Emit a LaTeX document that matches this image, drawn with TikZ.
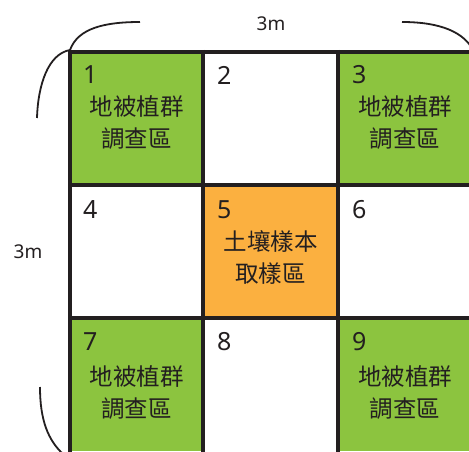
\documentclass[tikz,border=0pt]{standalone}
\usepackage{fontspec}
\setmainfont{Noto Sans}
\newfontfamily\cjk{Noto Sans CJK TC}
\definecolor{gr}{HTML}{8CC43F}
\definecolor{og}{HTML}{FBB040}
\definecolor{ink}{HTML}{231F20}
\tikzset{
  cellbox/.style={minimum width=135pt, minimum height=133pt, inner sep=0pt, anchor=north west, draw=none},
  num/.style={anchor=west, text=ink, font=\fontsize{25}{25}\selectfont, inner sep=0pt},
  lbl/.style={text=ink, font=\cjk\fontsize{23.5}{32}\selectfont, align=center, inner sep=0pt, anchor=north},
  dim/.style={text=ink, font=\fontsize{19}{19}\selectfont, inner sep=0pt},
  grid/.style={draw=ink, line width=4pt},
  brace/.style={draw=ink, line width=1.8pt},
}
\begin{document}
\begin{tikzpicture}[x=1pt,y=-1pt]
\useasboundingbox (0,0) rectangle (469,452);
\clip (0,0) rectangle (469,452);
\fill[white] (0,0) rectangle (469,452);
% cells
\node[cellbox, fill=gr] (c1) at (70,52) {};
\node[cellbox, fill=white] (c2) at (203,52) {};
\node[cellbox, fill=gr] (c3) at (338,52) {};
\node[cellbox, fill=white] (c4) at (70,185) {};
\node[cellbox, fill=og] (c5) at (203,185) {};
\node[cellbox, fill=white] (c6) at (338,185) {};
\node[cellbox, fill=gr] (c7) at (70,318) {};
\node[cellbox, fill=white] (c8) at (203,318) {};
\node[cellbox, fill=gr] (c9) at (338,318) {};
% grid lines
\draw[grid] (70,52) -- (480,52);
\draw[grid] (70,185) -- (480,185);
\draw[grid] (70,318) -- (480,318);
\draw[grid] (70,50) -- (70,470);
\draw[grid] (203,50) -- (203,470);
\draw[grid] (338,50) -- (338,470);
% numbers
\node[num] (n1) at (83,75) {1};
\node[num] (n2) at (217,75) {2};
\node[num] (n3) at (352,75) {3};
\node[num] (n4) at (83,210) {4};
\node[num] (n5) at (217,210) {5};
\node[num] (n6) at (352,210) {6};
\node[num] (n7) at (83,342) {7};
\node[num] (n8) at (217,342) {8};
\node[num] (n9) at (352,342) {9};
% labels
\node[lbl] (l1) at (136.5,95) {地被植群\\調查區};
\node[lbl] (l3) at (405,95) {地被植群\\調查區};
\node[lbl] (l5) at (270.5,230) {土壤樣本\\取樣區};
\node[lbl] (l7) at (136.5,365) {地被植群\\調查區};
\node[lbl] (l9) at (405,365) {地被植群\\調查區};
% dimensions
\node[dim] (dtop) at (271,24) {3m};
\node[dim] (dleft) at (28,252) {3m};
\draw[brace] (70,50) .. controls (78,28) and (105,22) .. (140,22);
\draw[brace] (402,22) .. controls (440,22) and (465,32) .. (474,52);
\draw[brace] (70,50) .. controls (48,54) and (38,85) .. (37,118);
\draw[brace] (40,387) .. controls (40,420) and (48,440) .. (63,454);
\end{tikzpicture}
\end{document}
